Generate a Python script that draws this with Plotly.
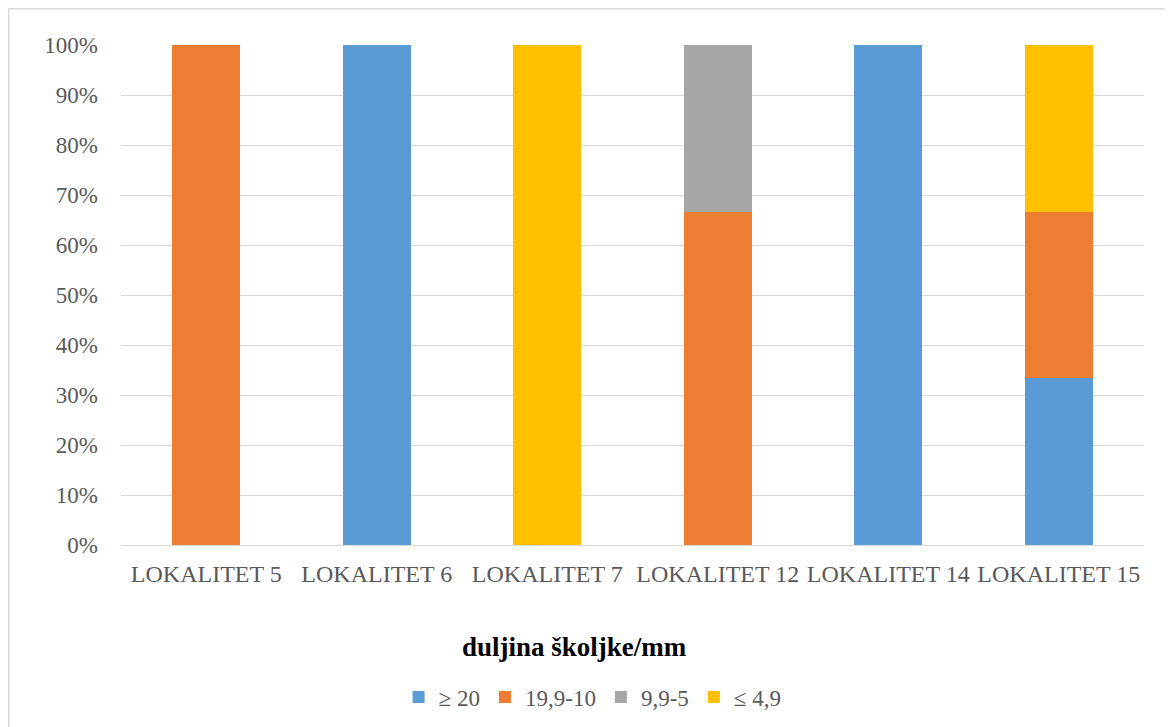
import plotly.graph_objects as go

categories = ["LOKALITET 5", "LOKALITET 6", "LOKALITET 7", "LOKALITET 12", "LOKALITET 14", "LOKALITET 15"]
series_names = ["≥ 20", "19,9-10", "9,9-5", "≤ 4,9"]
s_ge20 = [0, 100, 0, 0, 100, 33.33]
s_19_10 = [100, 0, 0, 66.67, 0, 33.33]
s_9_5 = [0, 0, 0, 33.33, 0, 0]
s_le4 = [0, 0, 100, 0, 0, 33.34]
colors = ["#5B9BD5", "#ED7D31", "#A5A5A5", "#FFC000"]
y_ticks = [0, 10, 20, 30, 40, 50, 60, 70, 80, 90, 100]
y_tick_labels = [f"{v}%" for v in y_ticks]
x_title = "duljina školjke/mm"

font_family = "Liberation Serif, Times New Roman, serif"
grey = "#595959"

W, H = 1173, 727
ML, MT, MR, MB = 113, 37, 37, 190
PW, PH = W - ML - MR, H - MT - MB

fig = go.Figure()
for name, vals, col in zip(series_names, [s_ge20, s_19_10, s_9_5, s_le4], colors):
    fig.add_trace(go.Bar(x=categories, y=vals, name=name, marker=dict(color=col, line=dict(width=0))))

bx = -(ML - 0.75) / PW
by = 1 + (MT - 0.75) / PH

fig.update_layout(
    barmode="stack",
    bargap=0.6,
    width=W, height=H,
    margin=dict(l=ML, r=MR, t=MT, b=MB, autoexpand=False),
    paper_bgcolor="white", plot_bgcolor="white",
    font=dict(family=font_family, size=23, color=grey),
    showlegend=True,
    legend=dict(orientation="h", x=0.461, xanchor="center", y=-0.304, yanchor="middle",
                traceorder="normal", font=dict(size=23, color=grey), itemwidth=30),
    xaxis=dict(showgrid=False, showline=False, zeroline=False, ticks="",
               tickfont=dict(size=24, color=grey), ticklabelstandoff=12),
    yaxis=dict(range=[0, 100], tickvals=y_ticks, ticktext=y_tick_labels,
               showgrid=True, gridcolor="#D9D9D9", gridwidth=1.3,
               zeroline=True, zerolinecolor="#D9D9D9", zerolinewidth=1.3,
               showline=False, ticks="", tickfont=dict(size=23, color=grey),
               ticklabelstandoff=22),
    annotations=[dict(text=f"<b>{x_title}</b>", xref="paper", yref="paper",
                      x=0.443, y=-0.204, xanchor="center", yanchor="middle",
                      showarrow=False, font=dict(size=27, color="black", family=font_family))],
    shapes=[
        dict(type="line", xref="paper", yref="paper", x0=bx, x1=1.2, y0=by, y1=by,
             line=dict(color="#D9D9D9", width=1.5)),
        dict(type="line", xref="paper", yref="paper", x0=bx, x1=bx, y0=-0.5, y1=by,
             line=dict(color="#D9D9D9", width=1.5)),
    ],
)

fig.write_html("out.html")
